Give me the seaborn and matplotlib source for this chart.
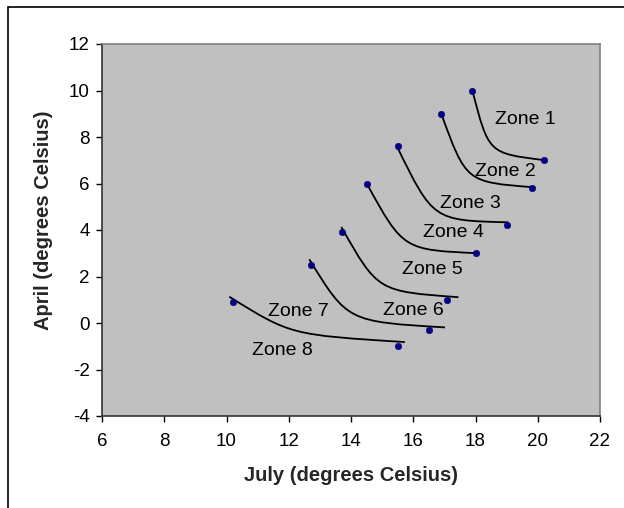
import matplotlib
matplotlib.use("Agg")
import matplotlib.pyplot as plt
import seaborn as sns
from matplotlib.path import Path
from matplotlib.patches import PathPatch, Rectangle

# Dots (July, April) for each zone, two per curve
dot_july = [17.9, 20.2, 16.9, 19.8, 15.5, 19.0, 14.5, 18.0, 13.7, 17.1, 12.7, 16.5, 10.2, 15.5]
dot_april = [10.0, 7.0, 9.0, 5.8, 7.6, 4.2, 6.0, 3.0, 3.9, 1.0, 2.5, -0.3, 0.9, -1.0]

# Smooth curves: start, bend, end
curve_start_x = [17.9, 16.9, 15.47, 14.5, 13.69, 12.66, 10.09]
curve_start_y = [10.0, 9.0, 7.61, 6.01, 4.13, 2.74, 1.13]
curve_bend_x = [18.42, 17.70, 16.64, 15.68, 14.86, 13.89, 12.06]
curve_bend_y = [7.30, 6.06, 4.41, 3.14, 1.36, 0.06, -0.51]
curve_end_x = [20.18, 19.86, 19.05, 18.12, 17.45, 17.02, 15.73]
curve_end_y = [7.01, 5.84, 4.33, 3.0, 1.11, -0.19, -0.82]

# Zone labels
zone_names = ["Zone 1", "Zone 2", "Zone 3", "Zone 4", "Zone 5", "Zone 6", "Zone 7", "Zone 8"]
label_x = [19.6, 18.95, 17.85, 17.3, 16.6, 16.0, 12.3, 11.8]
label_y = [8.75, 6.5, 5.15, 3.9, 2.3, 0.55, 0.5, -1.2]

x_ticks = [6, 8, 10, 12, 14, 16, 18, 20, 22]
y_ticks = [-4, -2, 0, 2, 4, 6, 8, 10, 12]

sns.set_style("ticks")
plt.rcParams["font.family"] = ["Liberation Sans", "DejaVu Sans"]
plt.rcParams["axes.unicode_minus"] = False

fig = plt.figure(figsize=(6.24, 5.08), dpi=100)
ax = fig.add_axes([102 / 624, 1 - 416 / 508, 498 / 624, 372 / 508])
ax.set_facecolor("#C0C0C0")

# curves
for i in range(len(curve_start_x)):
    p0 = (curve_start_x[i], curve_start_y[i])
    c = (curve_bend_x[i], curve_bend_y[i])
    p3 = (curve_end_x[i], curve_end_y[i])
    path = Path([p0, c, c, p3], [Path.MOVETO, Path.CURVE4, Path.CURVE4, Path.CURVE4])
    ax.add_patch(PathPatch(path, facecolor="none", edgecolor="black", lw=1.3, zorder=2))

sns.scatterplot(x=dot_july, y=dot_april, color="#000080", edgecolor="#000080",
                s=22, zorder=3, ax=ax)

for name, lx, ly in zip(zone_names, label_x, label_y):
    ax.text(lx, ly, name, fontsize=14, ha="center", va="center", color="black")

ax.set_xlim(6, 22)
ax.set_ylim(-4, 12)
ax.set_xticks(x_ticks)
ax.set_yticks(y_ticks)
ax.tick_params(direction="out", length=4, width=1, colors="black", labelsize=13.5)
ax.tick_params(axis="x", pad=8)
ax.tick_params(axis="y", pad=5)
ax.set_xlabel("July (degrees Celsius)", fontsize=14.5, fontweight="bold", labelpad=12)
ax.set_ylabel("April (degrees Celsius)", fontsize=14.5, fontweight="bold")
ax.yaxis.set_label_coords(-0.098, 0.527)

for side in ["left", "bottom"]:
    ax.spines[side].set_color("#333333")
    ax.spines[side].set_linewidth(1.2)
for side in ["top", "right"]:
    ax.spines[side].set_color("#808080")
    ax.spines[side].set_linewidth(1.2)

# outer chart border
fig.add_artist(Rectangle((8 / 624, -0.05), 1.1, 1.05 - 7 / 508, transform=fig.transFigure,
                         fill=False, edgecolor="black", lw=1.2, clip_on=False))

fig.savefig("out.png", dpi=100)
